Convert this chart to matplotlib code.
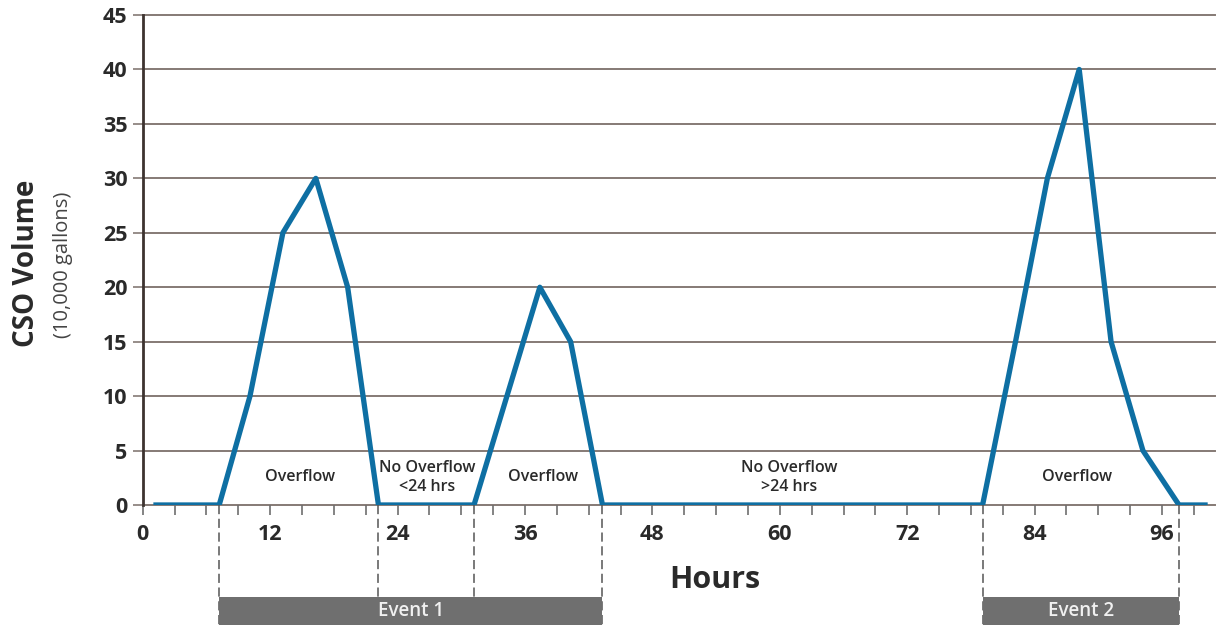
import matplotlib
matplotlib.use("Agg")
import matplotlib.pyplot as plt
import matplotlib.transforms as mtransforms
from matplotlib.patches import Rectangle

# ---- data ----
hours = [1.0, 7.2, 10.1, 13.2, 16.3, 19.3, 22.2, 31.2, 37.4, 40.3, 43.3,
         79.1, 82.2, 85.2, 88.2, 91.2, 94.2, 97.6, 100.3]
volume = [0, 0, 10, 25, 30, 20, 0, 0, 20, 15, 0,
          0, 15, 30, 40, 15, 5, 0, 0]

boundaries = [7.2, 22.2, 31.2, 43.3, 79.1, 97.6]
phase_labels = ["Overflow", "No Overflow\n<24 hrs", "Overflow", "No Overflow\n>24 hrs", "Overflow"]
phase_x = [14.8, 26.8, 37.7, 60.9, 88.0]
events = ["Event 1", "Event 2"]
event_start = [7.2, 79.1]
event_end = [43.3, 97.6]

xticks_major = [0, 12, 24, 36, 48, 60, 72, 84, 96]
yticks = [0, 5, 10, 15, 20, 25, 30, 35, 40, 45]

# ---- style ----
plt.rcParams['font.family'] = ['Open Sans', 'DejaVu Sans']
txt = "#2a2a2a"
grid_c = "#857a75"
line_c = "#0e6fa3"

fig = plt.figure(figsize=(12.2, 6.25), dpi=100)
ax = fig.add_axes([0.117, 0.192, 0.879, 0.784])

ax.set_xlim(0, 101)
ax.set_ylim(0, 45)

for y in yticks:
    ax.axhline(y, color=grid_c, lw=1.4, zorder=1, clip_on=False)

ax.plot(hours, volume, color=line_c, lw=3.8, solid_joinstyle='round',
        solid_capstyle='butt', zorder=3)

for s in ["top", "right", "bottom"]:
    ax.spines[s].set_visible(False)
ax.spines["left"].set_color("#3d3330")
ax.spines["left"].set_linewidth(2)

ax.set_yticks(yticks)
ax.set_yticklabels([str(v) for v in yticks], fontsize=15.5, fontweight='bold', color=txt)
ax.set_xticks(xticks_major)
ax.set_xticklabels([str(v) for v in xticks_major], fontsize=15.5, fontweight='bold', color=txt)
ax.set_xticks(list(range(0, 100, 3)), minor=True)
ax.tick_params(axis='y', length=7, width=1.2, color=grid_c, pad=4)
ax.tick_params(axis='x', which='both', length=7, width=1.2, color="#6e6e6e", pad=7)

fig.text(0.586, 0.072, "Hours", fontsize=22, fontweight='bold', color=txt,
         ha='center', va='center')

fig.text(0.0215, 0.578, "CSO Volume", rotation=90, fontsize=20, fontweight='bold',
         color=txt, ha='center', va='center')
fig.text(0.052, 0.577, "(10,000 gallons)", rotation=90, fontsize=14.5,
         color="#444444", ha='center', va='center')

for x, lab in zip(phase_x, phase_labels):
    ax.text(x, 2.55, lab, ha='center', va='center', fontsize=11.5,
            fontweight='semibold', color=txt, linespacing=1.25, zorder=4)

trans = mtransforms.blended_transform_factory(ax.transData, ax.transAxes)
for b in boundaries:
    ax.plot([b, b], [0, -0.245], transform=trans, color="#555555", lw=1.1,
            ls=(0, (6, 3)), clip_on=False, zorder=2)

for name, s, e in zip(events, event_start, event_end):
    r = Rectangle((s, -0.245), e - s, 0.057, transform=trans, facecolor="#6f6f6f",
                  edgecolor='none', clip_on=False, zorder=2)
    ax.add_patch(r)
    ax.text((s + e) / 2, -0.217, name, transform=trans, ha='center', va='center',
            fontsize=13.5, color="#f0f0f0", fontweight='semibold')

fig.savefig("out.png", dpi=100)
